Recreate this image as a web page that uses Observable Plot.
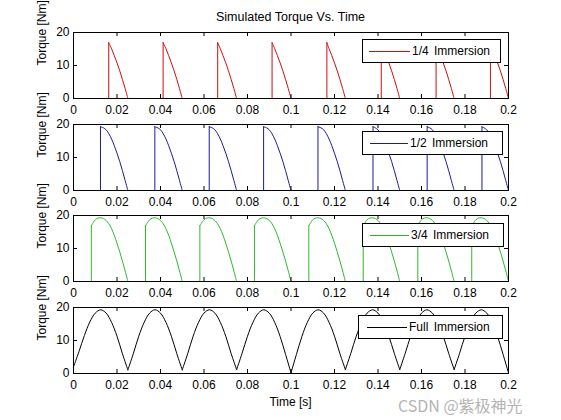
<!DOCTYPE html>
<html>
<head>
<meta charset="utf-8">
<script src="https://cdn.jsdelivr.net/npm/d3@7"></script>
<script src="https://cdn.jsdelivr.net/npm/@observablehq/plot@0.6"></script>
<style>
  html, body { margin: 0; padding: 0; background: #fff; }
  #fig { position: relative; width: 561px; height: 420px; background: #fff; overflow: hidden;
         font-family: "Liberation Sans", Arial, sans-serif; font-size: 12px; color: #000; }
  .abs { position: absolute; }
  .legend { position: absolute; background: #fff; border: 1px solid #000; box-sizing: border-box;
            height: 24px; display: flex; align-items: center; font-size: 12px; white-space: nowrap; word-spacing: 2px; }
  .legend .swatch { height: 0; border-top: 1px solid; margin-right: 2px; }
</style>
</head>
<body>
<div id="fig"></div>
<script>
// ---------------- data ----------------
const xTicks = [0, 0.02, 0.04, 0.06, 0.08, 0.1, 0.12, 0.14, 0.16, 0.18, 0.2];
const xTickLabels = ["0", "0.02", "0.04", "0.06", "0.08", "0.1", "0.12", "0.14", "0.16", "0.18", "0.2"];
const yTicks = [0, 10, 20];

const titleText = "Simulated Torque Vs. Time";
const yLabel = "Torque [Nm]";
const xLabel = "Time [s]";
const seriesNames = ["1/4 Immersion", "1/2 Immersion", "3/4 Immersion", "Full Immersion"];
const seriesColors = ["#cc0e0e", "#1a1a9e", "#2db82d", "#000000"];

// 1/4 immersion: arcs separated by null
const quarterTime = [
  0.0162,0.0175,0.01875,0.02,0.02125,0.0225,0.02375,0.025, null,
  0.0412,0.0425,0.04375,0.045,0.04625,0.0475,0.04875,0.05, null,
  0.0663,0.0675,0.06875,0.07,0.07125,0.0725,0.07375,0.075, null,
  0.0913,0.0925,0.09375,0.095,0.09625,0.0975,0.09875,0.1, null,
  0.1165,0.1175,0.11875,0.12,0.12125,0.1225,0.12375,0.125, null,
  0.1415,0.1425,0.14375,0.145,0.14625,0.1475,0.14875,0.15, null,
  0.1667,0.1675,0.16875,0.17,0.17125,0.1725,0.17375,0.175, null,
  0.1917,0.1925,0.19375,0.195,0.19625,0.1975,0.19875,0.2
];
const quarterTorque = [
  16.9,15.1,13.0,10.8,8.4,5.8,3.0,0, null,
  16.9,15.1,13.0,10.8,8.4,5.8,3.0,0, null,
  16.9,15.1,13.0,10.8,8.4,5.8,3.0,0, null,
  16.9,15.1,13.0,10.8,8.4,5.8,3.0,0, null,
  16.9,15.1,13.0,10.8,8.4,5.8,3.0,0, null,
  16.9,15.1,13.0,10.8,8.4,5.8,3.0,0, null,
  16.9,15.1,13.0,10.8,8.4,5.8,3.0,0, null,
  16.9,15.1,13.0,10.8,8.4,5.8,3.0,0
];

// 1/2 immersion
const halfTime = [
  0.0124,0.01375,0.015,0.01625,0.0175,0.01875,0.02,0.02125,0.0225,0.02375,0.025, null,
  0.0374,0.03875,0.04,0.04125,0.0425,0.04375,0.045,0.04625,0.0475,0.04875,0.05, null,
  0.0624,0.06375,0.065,0.06625,0.0675,0.06875,0.07,0.07125,0.0725,0.07375,0.075, null,
  0.0874,0.08875,0.09,0.09125,0.0925,0.09375,0.095,0.09625,0.0975,0.09875,0.1, null,
  0.1124,0.11375,0.115,0.11625,0.1175,0.11875,0.12,0.12125,0.1225,0.12375,0.125, null,
  0.1377,0.13875,0.14,0.14125,0.1425,0.14375,0.145,0.14625,0.1475,0.14875,0.15, null,
  0.1626,0.16375,0.165,0.16625,0.1675,0.16875,0.17,0.17125,0.1725,0.17375,0.175, null,
  0.1878,0.18875,0.19,0.19125,0.1925,0.19375,0.195,0.19625,0.1975,0.19875,0.2
];
const halfTorque = [
  19.3,19.0,18.4,17.2,15.6,13.6,11.3,8.8,6.0,3.0,0, null,
  19.3,19.0,18.4,17.2,15.6,13.6,11.3,8.8,6.0,3.0,0, null,
  19.3,19.0,18.4,17.2,15.6,13.6,11.3,8.8,6.0,3.0,0, null,
  19.3,19.0,18.4,17.2,15.6,13.6,11.3,8.8,6.0,3.0,0, null,
  19.3,19.0,18.4,17.2,15.6,13.6,11.3,8.8,6.0,3.0,0, null,
  19.3,19.0,18.4,17.2,15.6,13.6,11.3,8.8,6.0,3.0,0, null,
  19.3,19.0,18.4,17.2,15.6,13.6,11.3,8.8,6.0,3.0,0, null,
  19.3,19.0,18.4,17.2,15.6,13.6,11.3,8.8,6.0,3.0,0
];

// 3/4 immersion
const threeQuarterTime = [
  0.0082,0.01,0.01125,0.0125,0.01375,0.015,0.01625,0.0175,0.01875,0.02,0.02125,0.0225,0.02375,0.025, null,
  0.0331,0.035,0.03625,0.0375,0.03875,0.04,0.04125,0.0425,0.04375,0.045,0.04625,0.0475,0.04875,0.05, null,
  0.0581,0.06,0.06125,0.0625,0.06375,0.065,0.06625,0.0675,0.06875,0.07,0.07125,0.0725,0.07375,0.075, null,
  0.0832,0.085,0.08625,0.0875,0.08875,0.09,0.09125,0.0925,0.09375,0.095,0.09625,0.0975,0.09875,0.1, null,
  0.1082,0.11,0.11125,0.1125,0.11375,0.115,0.11625,0.1175,0.11875,0.12,0.12125,0.1225,0.12375,0.125, null,
  0.1332,0.135,0.13625,0.1375,0.13875,0.14,0.14125,0.1425,0.14375,0.145,0.14625,0.1475,0.14875,0.15, null,
  0.1583,0.16,0.16125,0.1625,0.16375,0.165,0.16625,0.1675,0.16875,0.17,0.17125,0.1725,0.17375,0.175, null,
  0.1831,0.185,0.18625,0.1875,0.18875,0.19,0.19125,0.1925,0.19375,0.195,0.19625,0.1975,0.19875,0.2
];
const threeQuarterTorque = [
  16.9,18.7,19.2,19.3,19.1,18.5,17.5,16.0,14.0,11.6,9.0,6.2,3.2,0, null,
  16.9,18.7,19.2,19.3,19.1,18.5,17.5,16.0,14.0,11.6,9.0,6.2,3.2,0, null,
  16.9,18.7,19.2,19.3,19.1,18.5,17.5,16.0,14.0,11.6,9.0,6.2,3.2,0, null,
  16.9,18.7,19.2,19.3,19.1,18.5,17.5,16.0,14.0,11.6,9.0,6.2,3.2,0, null,
  16.9,18.7,19.2,19.3,19.1,18.5,17.5,16.0,14.0,11.6,9.0,6.2,3.2,0, null,
  16.9,18.7,19.2,19.3,19.1,18.5,17.5,16.0,14.0,11.6,9.0,6.2,3.2,0, null,
  16.9,18.7,19.2,19.3,19.1,18.5,17.5,16.0,14.0,11.6,9.0,6.2,3.2,0, null,
  16.9,18.7,19.2,19.3,19.1,18.5,17.5,16.0,14.0,11.6,9.0,6.2,3.2,0
];

// Full immersion
const fullTime = [
  0,0.0025,0.005,0.0075,0.01,0.0125,0.015,0.0175,0.02,0.0225,0.025, null,
  0.025,0.0275,0.03,0.0325,0.035,0.0375,0.04,0.0425,0.045,0.0475,0.05, null,
  0.05,0.0525,0.055,0.0575,0.06,0.0625,0.065,0.0675,0.07,0.0725,0.075, null,
  0.075,0.0775,0.08,0.0825,0.085,0.0875,0.09,0.0925,0.095,0.0975,0.1, null,
  0.1,0.1025,0.105,0.1075,0.11,0.1125,0.115,0.1175,0.12,0.1225,0.125, null,
  0.125,0.1275,0.13,0.1325,0.135,0.1375,0.14,0.1425,0.145,0.1475,0.15, null,
  0.15,0.1525,0.155,0.1575,0.16,0.1625,0.165,0.1675,0.17,0.1725,0.175, null,
  0.175,0.1775,0.18,0.1825,0.185,0.1875,0.19,0.1925,0.195,0.1975,0.2
];
const fullTorque = [
  2.0,6.6,11.5,15.6,18.3,19.3,18.3,15.5,11.3,6.0,1.1, null,
  1.1,6.0,11.3,15.5,18.3,19.3,18.3,15.5,11.3,6.0,1.1, null,
  1.1,6.0,11.3,15.5,18.3,19.3,18.3,15.5,11.3,6.0,1.2, null,
  1.2,6.1,11.3,15.5,18.3,19.3,18.3,15.5,11.2,5.8,0.2, null,
  0.2,5.8,11.2,15.5,18.3,19.3,18.3,15.5,11.3,6.0,1.2, null,
  1.2,6.1,11.3,15.5,18.3,19.3,18.3,15.5,11.3,6.1,1.2, null,
  1.2,6.1,11.3,15.5,18.3,19.3,18.3,15.5,11.3,6.1,1.2, null,
  1.2,6.1,11.3,15.5,18.3,19.3,18.3,15.5,11.2,5.8,0.2
];

// ---------------- layout ----------------
const FONT = '"Liberation Sans", Arial, sans-serif';
const W = 561, ML = 73, MR = 53, MT = 8, MB = 26, IH = 66;
const IW = W - ML - MR;
const panelTops = [32, 124, 215, 307];
const legendBoxes = [
  {left: 362, top: 39, width: 139, pad: 6, line: 41},
  {left: 362, top: 131, width: 141, pad: 7, line: 38},
  {left: 362, top: 223, width: 142, pad: 7, line: 39},
  {left: 358, top: 315, width: 145, pad: 8, line: 40}
];
const seriesTimes = [quarterTime, halfTime, threeQuarterTime, fullTime];
const seriesTorques = [quarterTorque, halfTorque, threeQuarterTorque, fullTorque];
const hasJumps = [true, true, true, false];

const fig = document.getElementById("fig");
const fmt = d => xTickLabels[xTicks.findIndex(v => Math.abs(v - d) < 1e-9)];

function addDiv(cls, styleObj, text) {
  const el = document.createElement("div");
  el.className = cls;
  Object.assign(el.style, styleObj);
  if (text != null) el.textContent = text;
  fig.appendChild(el);
  return el;
}

// title
addDiv("abs", {left: ML + "px", top: "10px", width: IW + "px", textAlign: "center", lineHeight: "14px", fontSize: "12.5px"}, titleText);

seriesNames.forEach((name, k) => {
  const T = seriesTimes[k], Y = seriesTorques[k], color = seriesColors[k];
  const pts = T.map((t, i) => ({t, v: Y[i]}));
  const jumps = hasJumps[k] ? pts.filter((d, i) => d.v != null && (i === 0 || pts[i - 1].v == null)) : [];
  const svg = Plot.plot({
    width: W, height: MT + IH + MB,
    marginLeft: ML, marginRight: MR, marginTop: MT, marginBottom: MB,
    style: {background: "transparent", fontFamily: FONT, fontSize: "12px", color: "black", overflow: "visible"},
    x: {domain: [0, 0.2]},
    y: {domain: [0, 20]},
    marks: [
      Plot.ruleX(jumps, {x: "t", y1: 0, y2: "v", stroke: color, strokeWidth: 1}),
      Plot.line(pts, {x: "t", y: "v", stroke: color, strokeWidth: 1, curve: "catmull-rom"}),
      Plot.frame({stroke: "black", strokeWidth: 1}),
      Plot.tickX(xTicks, {x: d => d, insetTop: IH - 4, stroke: "black"}),
      Plot.tickX(xTicks, {x: d => d, insetBottom: IH - 4, stroke: "black"}),
      Plot.tickY(yTicks, {y: d => d, insetRight: IW - 4, stroke: "black"}),
      Plot.tickY(yTicks, {y: d => d, insetLeft: IW - 4, stroke: "black"}),
      Plot.axisX({ticks: xTicks, tickFormat: fmt, tickSize: 0, tickPadding: 7, label: null, fontSize: 12}),
      Plot.axisY({ticks: yTicks, tickSize: 0, tickPadding: 4, label: null, fontSize: 12}),
      Plot.text([yLabel], {text: d => d, frameAnchor: "left", dx: -31, rotate: -90, fill: "black", fontSize: 12})
    ]
  });
  svg.style.position = "absolute";
  svg.style.left = "0px";
  svg.style.top = (panelTops[k] - MT) + "px";
  fig.appendChild(svg);
});

// legends (drawn over the axes, opaque white like the original)
seriesNames.forEach((name, k) => {
  const b = legendBoxes[k];
  const lg = addDiv("legend", {left: b.left + "px", top: b.top + "px", width: b.width + "px", paddingLeft: b.pad + "px"});
  const sw = document.createElement("div");
  sw.className = "swatch";
  sw.style.width = b.line + "px";
  sw.style.borderTopColor = seriesColors[k];
  lg.appendChild(sw);
  const tx = document.createElement("span");
  tx.textContent = name;
  lg.appendChild(tx);
});

// x label
addDiv("abs", {left: ML + "px", top: "395px", width: IW + "px", textAlign: "center", lineHeight: "14px"}, xLabel);

// watermark present in the reference image
addDiv("abs", {left: "398px", top: "397px", fontFamily: '"Noto Sans CJK SC", "Noto Sans", sans-serif', fontSize: "16px", color: "#b4b4b4", lineHeight: "17px", whiteSpace: "nowrap"}, "CSDN @紫极神光");
</script>
</body>
</html>
